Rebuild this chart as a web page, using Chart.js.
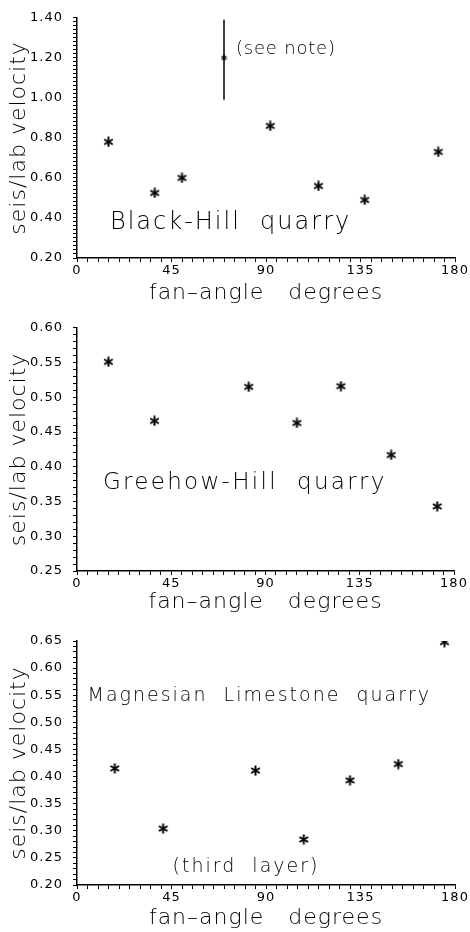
<!DOCTYPE html>
<html>
<head>
<meta charset="utf-8">
<script src="https://cdn.jsdelivr.net/npm/chart.js@4.4.1/dist/chart.umd.min.js"></script>
<style>
  html, body { margin: 0; padding: 0; background: #fff; }
  #wrap { position: relative; width: 470px; height: 932px; }
  canvas { position: absolute; left: 0; }
</style>
</head>
<body>
<div id="wrap">
  <canvas id="blackHill" width="470" height="310" style="top:0"></canvas>
  <canvas id="greehowHill" width="470" height="310" style="top:310px"></canvas>
  <canvas id="magnesian" width="470" height="312" style="top:620px"></canvas>
</div>
<script>
const blackAngle = [15, 37, 50, 70, 92, 115, 137, 172];
const blackRatio = [0.78, 0.525, 0.60, 1.20, 0.86, 0.56, 0.49, 0.73];
const blackNoteAngle = 70;
const blackNoteRange = [0.99, 1.39];

const greehowAngle = [15, 37, 82, 105, 126, 150, 172];
const greehowRatio = [0.551, 0.466, 0.515, 0.463, 0.516, 0.417, 0.343];

const magAngle = [18, 41, 85, 108, 130, 153, 175];
const magRatio = [0.415, 0.304, 0.411, 0.284, 0.393, 0.423, 0.648];

const angleTicks = [0, 45, 90, 135, 180];

Chart.defaults.font.family = "'DejaVu Sans', sans-serif";
Chart.defaults.color = "#000";

// six armed asterisk used as the point marker
function asterisk(size, lw) {
  const c = document.createElement("canvas");
  c.width = size; c.height = size;
  const g = c.getContext("2d");
  const r = size / 2 - 0.5;
  g.strokeStyle = "#000";
  g.lineWidth = lw;
  g.lineCap = "butt";
  g.translate(size / 2, size / 2);
  [90, 30, 150].forEach(d => {
    const a = d * Math.PI / 180;
    g.beginPath();
    g.moveTo(-r * Math.cos(a), -r * Math.sin(a));
    g.lineTo(r * Math.cos(a), r * Math.sin(a));
    g.stroke();
  });
  return c;
}
const bigStar = asterisk(11, 2);
const smallStar = asterisk(7, 1.3);

// draws free text labels at data coordinates
function notesPlugin(items) {
  return {
    id: "notes",
    afterDatasetsDraw(chart) {
      const ctx = chart.ctx;
      const { x, y } = chart.scales;
      ctx.save();
      ctx.fillStyle = "#000";
      ctx.textBaseline = "alphabetic";
      ctx.textAlign = "left";
      items.forEach(n => {
        ctx.font = "200 " + n.size + "px 'DejaVu Sans'";
        ctx.letterSpacing = n.spacing + "px";
        ctx.fillText(n.text, x.getPixelForValue(n.x), y.getPixelForValue(n.y));
      });
      ctx.restore();
    }
  };
}

const spacingPlugin = {
  id: "spacing",
  beforeDraw(chart) { chart.ctx.letterSpacing = "1px"; },
  afterDraw(chart) { chart.ctx.letterSpacing = "0px"; }
};

function makePanel(id, cfg) {
  const points = cfg.angles.map((a, i) => ({ x: a, y: cfg.ratios[i] }));
  const datasets = [{
    data: points,
    pointStyle: cfg.markers || bigStar,
    pointRadius: 5,
    borderColor: "#000",
    backgroundColor: "#000"
  }].concat(cfg.extra || []);

  return new Chart(document.getElementById(id), {
    type: "scatter",
    data: { datasets },
    plugins: [notesPlugin(cfg.notes), spacingPlugin],
    options: {
      responsive: false,
      animation: false,
      devicePixelRatio: 1,
      layout: { padding: cfg.pad },
      plugins: { legend: { display: false }, tooltip: { enabled: false } },
      scales: {
        x: {
          type: "linear",
          min: 0,
          max: 180,
          afterFit: s => { s.height = cfg.xHeight; },
          border: { color: "#000", width: 1.5 },
          grid: { drawOnChartArea: false, tickLength: 4, color: "#000" },
          ticks: {
            stepSize: 5,
            autoSkip: false,
            maxRotation: 0,
            padding: 1,
            font: { size: 13 },
            callback: v => angleTicks.includes(v) ? String(v) : ""
          },
          title: {
            display: true,
            text: "fan–angle   degrees",
            font: { size: 22, weight: 200 },
            padding: { top: 0, bottom: 0 }
          }
        },
        y: {
          min: cfg.yMin,
          max: cfg.yMax,
          afterFit: s => { s.width = 77; },
          border: { color: "#000", width: 1.5 },
          grid: { drawOnChartArea: false, tickLength: 4, color: "#000" },
          ticks: {
            stepSize: cfg.yStep,
            maxTicksLimit: 200,
            autoSkip: false,
            padding: 10,
            font: { size: 13 },
            callback: v => {
              const k = Math.round(v * 100);
              return k % cfg.yMajor === 0 ? (k / 100).toFixed(2) : "";
            }
          },
          title: {
            display: true,
            text: "seis/lab velocity",
            font: { size: 22, weight: 200 },
            padding: { top: 6, bottom: 0 }
          }
        }
      }
    }
  });
}

makePanel("blackHill", {
  angles: blackAngle,
  ratios: blackRatio,
  markers: blackAngle.map(a => a === blackNoteAngle ? smallStar : bigStar),
  yMin: 0.20, yMax: 1.40, yStep: 0.02, yMajor: 20,
  pad: { left: 0, right: 15, top: 13, bottom: 4 },
  xHeight: 48,
  extra: [{
    data: blackNoteRange.map(v => ({ x: blackNoteAngle, y: v })),
    showLine: true,
    pointRadius: 0,
    borderColor: "#000",
    borderWidth: 1.5
  }],
  notes: [
    { text: "Black-Hill  quarry", x: 15.7, y: 0.347, size: 24, spacing: 2 },
    { text: "(see note)", x: 75.7, y: 1.219, size: 18, spacing: 0.8 }
  ]
});

makePanel("greehowHill", {
  angles: greehowAngle,
  ratios: greehowRatio,
  yMin: 0.25, yMax: 0.60, yStep: 0.01, yMajor: 5,
  pad: { left: 0, right: 16, top: 15, bottom: 5 },
  xHeight: 44,
  notes: [
    { text: "Greehow-Hill  quarry", x: 12.4, y: 0.368, size: 23, spacing: 2.3 }
  ]
});

makePanel("magnesian", {
  angles: magAngle,
  ratios: magRatio,
  yMin: 0.20, yMax: 0.65, yStep: 0.01, yMajor: 5,
  pad: { left: 0, right: 15, top: 21, bottom: 1 },
  xHeight: 46,
  notes: [
    { text: "Magnesian  Limestone  quarry", x: 5, y: 0.5395, size: 19, spacing: 2 },
    { text: "(third  layer)", x: 45.5, y: 0.2246, size: 19, spacing: 2 }
  ]
});
</script>
</body>
</html>
